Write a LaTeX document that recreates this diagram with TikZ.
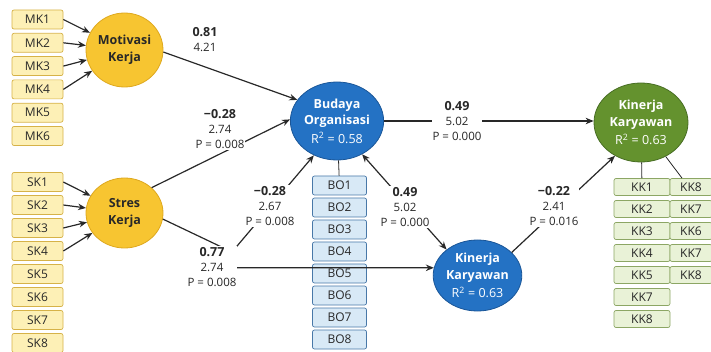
\documentclass[tikz,border=0pt]{standalone}
\usepackage{fontspec}
\setmainfont{Open Sans}
\usepackage{tikz}
\usetikzlibrary{arrows.meta,shapes.geometric}
\definecolor{txt}{RGB}{40,40,40}
\definecolor{arrowc}{RGB}{40,40,40}
\definecolor{latY}{RGB}{247,197,49}
\definecolor{latYline}{RGB}{222,168,30}
\definecolor{indY}{RGB}{253,240,182}
\definecolor{indYline}{RGB}{214,178,72}
\definecolor{latB}{RGB}{36,114,196}
\definecolor{latBline}{RGB}{26,86,152}
\definecolor{indB}{RGB}{216,233,246}
\definecolor{indBline}{RGB}{72,120,168}
\definecolor{latG}{RGB}{100,146,46}
\definecolor{latGline}{RGB}{72,110,36}
\definecolor{indG}{RGB}{233,242,215}
\definecolor{indGline}{RGB}{140,166,100}
\newcommand{\coeftext}[3]{\textbf{\fontsize{12.5}{16}\selectfont #1}\\#2\\P = #3}
\newcommand{\rsq}[1]{\\[2pt]\mdseries R\textsuperscript{2} = #1}

\begin{document}
\begin{tikzpicture}[x=1pt,y=-1pt,
  indicator/.style={draw, rounded corners=2pt, inner sep=0pt, line width=0.7pt,
    minimum height=19pt, text=txt, font=\fontsize{12}{14}\selectfont},
  mkbox/.style={indicator, fill=indY, draw=indYline, minimum width=51pt},
  bobox/.style={indicator, fill=indB, draw=indBline, minimum width=54pt},
  kkbox/.style={indicator, fill=indG, draw=indGline, minimum width=56pt, minimum height=17pt},
  latent/.style={ellipse, inner sep=0pt, align=center, line width=0.8pt,
    font=\bfseries\fontsize{12.5}{16.5}\selectfont},
  yellowlat/.style={latent, fill=latY, draw=latYline, text=txt},
  bluelat/.style={latent, fill=latB, draw=latBline, text=white},
  greenlat/.style={latent, fill=latG, draw=latGline, text=white},
  arr/.style={-{Stealth[length=8pt,width=6.5pt]}, line width=1.2pt, draw=arrowc},
  link/.style={line width=0.8pt, draw=arrowc},
  coef/.style={fill=white, align=center, inner sep=1pt, text=txt,
    font=\fontsize{11.5}{15}\selectfont}]
\useasboundingbox (0,0) rectangle (711,352);

% latent variables
\node[yellowlat, minimum width=77pt, minimum height=74pt] (mot) at (124.5,50) {Motivasi\\Kerja};
\node[yellowlat, minimum width=77pt, minimum height=70pt] (str) at (124.5,213) {Stres\\Kerja};
\node[bluelat, minimum width=90pt, minimum height=78pt] (bud) at (337,121) {Budaya\\Organisasi\rsq{0.58}};
\node[bluelat, minimum width=85pt, minimum height=71pt] (kin) at (477.5,275.5) {Kinerja\\Karyawan\rsq{0.63}};
\node[greenlat, minimum width=94pt, minimum height=79pt] (kkg) at (641,122.5) {Kinerja\\Karyawan\rsq{0.63}};

% indicators
\foreach \i in {1,...,6}
  \node[mkbox] (mk\i) at (37.5,{19.5+23.3*(\i-1)}) {MK\i};
\foreach \i in {1,...,8}
  \node[mkbox] (sk\i) at (37.5,{182+23*(\i-1)}) {SK\i};
\foreach \i in {1,...,8}
  \node[bobox] (bo\i) at (339.5,{185.5+22*(\i-1)}) {BO\i};
\foreach \lab [count=\i] in {KK1,KK2,KK3,KK4,KK5,KK7,KK8}
  \node[kkbox] (kka\i) at (642,{187+22*(\i-1)}) {\lab};
\foreach \lab [count=\i] in {KK8,KK7,KK6,KK7,KK8}
  \node[kkbox, minimum width=42pt] (kkb\i) at (691,{187+22*(\i-1)}) {\lab};

\foreach \i in {1,...,4}{
  \draw[arr] (mk\i.east) -- (mot);
  \draw[arr] (sk\i.east) -- (str);
}
\draw[link] (bud) -- (bo1);
\draw[link] (kkg) -- (kka1);
\draw[link] (kkg.-54) -- ([xshift=-9pt]kkb1.north);

% structural paths
\coordinate (c77) at (232,252);
\draw[arr] (mot.-3) -- (bud.152);
\draw[arr] (str.43) -- (bud.178);
\draw[arr] (bud.east) -- (bud.east -| kkg.west);
\draw[arr] (str.-9) -- (c77) |- (kin.170);
\draw[arr] (c77) -- (bud.236);
\draw[{Stealth[length=8pt,width=6.5pt]}-{Stealth[length=8pt,width=6.5pt]}, line width=1.2pt, draw=arrowc] (kin.140) -- (bud.307);
\draw[arr] (kin.34) -- (kkg.232);

% coefficients
\node[coef, fill=none] (c1) at (205,40) {\textbf{\fontsize{12.5}{16}\selectfont 0.81}\\4.21};
\node[coef] (c2) at (220,129) {\coeftext{−0.28}{2.74}{0.008}};
\node[coef] (c3) at (457,121) {\coeftext{0.49}{5.02}{0.000}};
\node[coef] (c4) at (212,267) {\coeftext{0.77}{2.74}{0.008}};
\node[coef] (c5) at (270,206) {\coeftext{−0.28}{2.67}{0.008}};
\node[coef] (c6) at (405,207) {\coeftext{0.49}{5.02}{0.000}};
\node[coef] (c7) at (554,206) {\coeftext{−0.22}{2.41}{0.016}};
\end{tikzpicture}
\end{document}
